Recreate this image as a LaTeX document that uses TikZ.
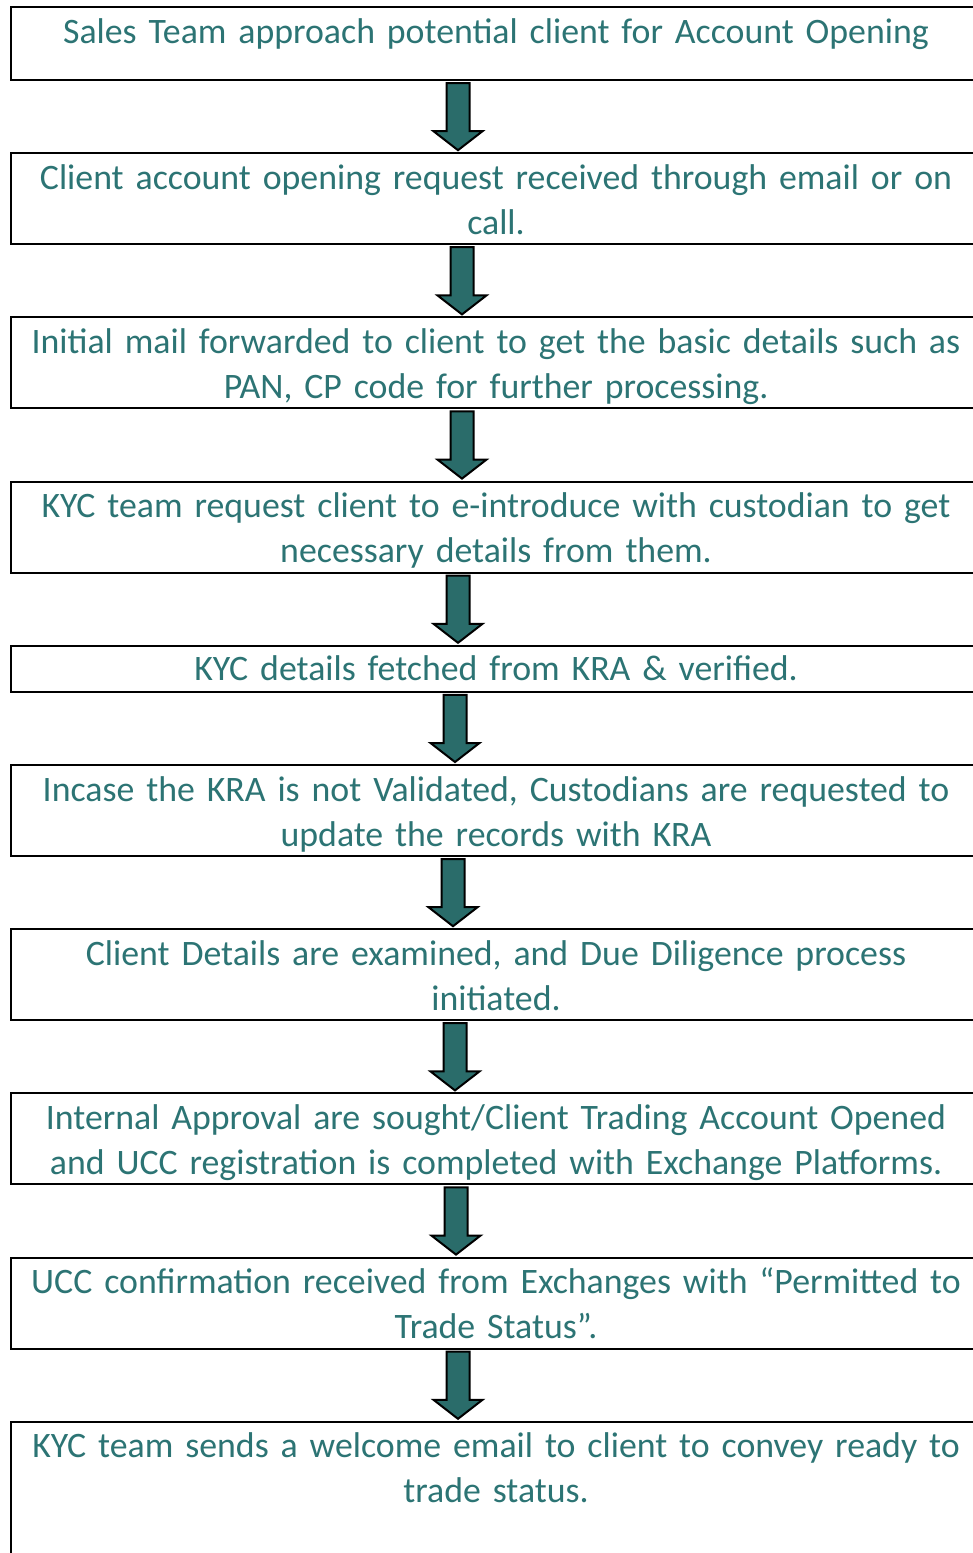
\documentclass[tikz,border=0pt]{standalone}
\usepackage{fontspec}
\setmainfont{Carlito}
\usetikzlibrary{positioning,calc}

\definecolor{kyctext}{RGB}{44,116,116}
\definecolor{kycarrow}{RGB}{42,108,106}

\tikzset{
  stepbox/.style={draw=black, line width=2pt, text width=970pt, align=center,
    inner xsep=0pt, inner ysep=0pt, text height=36pt, text depth=55pt,
    font=\fontsize{35.8pt}{45pt}\selectfont, text=kyctext},
  blockarrow/.style={draw=black, line width=2pt, fill=kycarrow, line join=miter}
}

% block arrow from box #1 down to box #2, centred at x=#3
\newcommand{\flowarrow}[3]{%
  \draw[blockarrow] let \p1=(#1.south), \p2=(#2.north) in
    (#3pt-11.5pt,\y1-2pt) -- (#3pt+11.5pt,\y1-2pt) -- (#3pt+11.5pt,\y2+21pt)
    -- (#3pt+24.5pt,\y2+21pt) -- (#3pt,\y2+2pt) -- (#3pt-24.5pt,\y2+21pt)
    -- (#3pt-11.5pt,\y2+21pt) -- cycle;}

\begin{document}
\begin{tikzpicture}[x=1pt, y=-1pt, node distance=71.2pt]
    \useasboundingbox[fill=white] (0,0) rectangle (972,1553);

    % process boxes
    \node[stepbox, anchor=north, text depth=37pt] (open) at (496,6)
      {Sales Team approach potential client for Account Opening};
    \node[stepbox, below=of open] (request)
      {Client account opening request received through email or on\\call.};
    \node[stepbox, below=of request] (mail)
      {Initial mail forwarded to client to get the basic details such as\\PAN, CP code for further processing.};
    \node[stepbox, below=of mail] (custodian)
      {KYC team request client to e-introduce with custodian to get\\necessary details from them.};
    \node[stepbox, below=of custodian, text height=35pt, text depth=11pt] (kra)
      {KYC details fetched from KRA \& verified.};
    \node[stepbox, below=of kra] (validate)
      {Incase the KRA is not Validated, Custodians are requested to\\update the records with KRA};
    \node[stepbox, below=of validate] (diligence)
      {Client Details are examined, and Due Diligence process\\initiated.};
    \node[stepbox, below=of diligence] (approval)
      {Internal Approval are sought/Client Trading Account Opened\\and UCC registration is completed with Exchange Platforms.};
    \node[stepbox, below=of approval] (ucc)
      {UCC confirmation received from Exchanges with “Permitted to\\Trade Status”.};
    \node[stepbox, below=of ucc, text depth=120pt] (welcome)
      {KYC team sends a welcome email to client to convey ready to\\trade status.};

    % arrows between the boxes
    \flowarrow{open}{request}{458}
    \flowarrow{request}{mail}{462}
    \flowarrow{mail}{custodian}{462}
    \flowarrow{custodian}{kra}{458}
    \flowarrow{kra}{validate}{455}
    \flowarrow{validate}{diligence}{453}
    \flowarrow{diligence}{approval}{455}
    \flowarrow{approval}{ucc}{456}
    \flowarrow{ucc}{welcome}{458}
\end{tikzpicture}
\end{document}
